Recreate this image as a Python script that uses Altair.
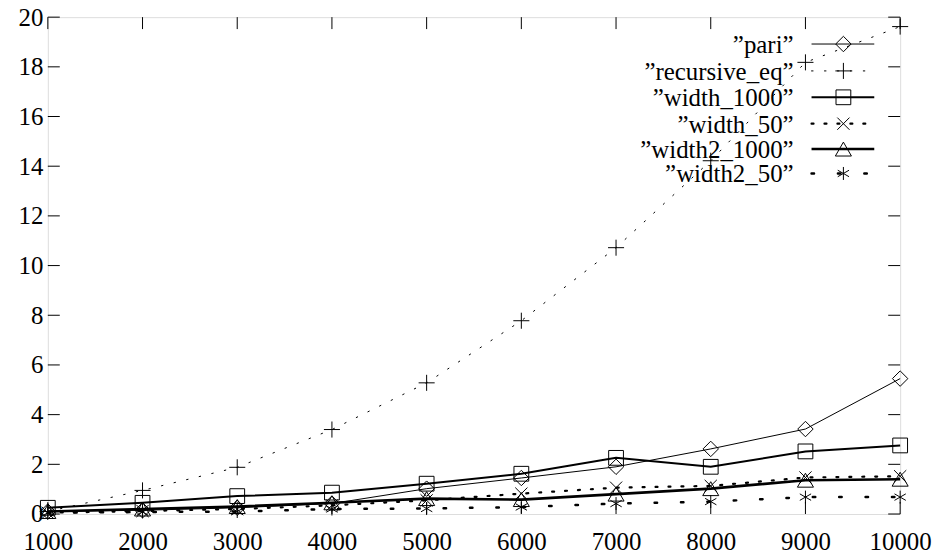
import altair as alt
import pandas as pd

sizes = [1000, 2000, 3000, 4000, 5000, 6000, 7000, 8000, 9000, 10000]
pari = [0.10, 0.15, 0.25, 0.42, 1.02, 1.45, 1.90, 2.62, 3.42, 5.45]
recursive_eq = [0.10, 0.95, 1.88, 3.40, 5.28, 7.78, 10.72, 14.22, 18.18, 19.62]
width_1000 = [0.25, 0.45, 0.72, 0.86, 1.22, 1.62, 2.26, 1.90, 2.52, 2.76]
width_50 = [0.05, 0.12, 0.20, 0.35, 0.55, 0.82, 1.06, 1.13, 1.47, 1.52]
width2_1000 = [0.10, 0.20, 0.30, 0.45, 0.62, 0.58, 0.80, 1.02, 1.36, 1.40]
width2_50 = [0.05, 0.08, 0.10, 0.20, 0.22, 0.28, 0.42, 0.50, 0.68, 0.68]

names = ['"pari"', '"recursive_eq"', '"width_1000"', '"width_50"', '"width2_1000"', '"width2_50"']
legend_labels = ["\u201dpari\u201d", "\u201drecursive_eq\u201d", "\u201dwidth_1000\u201d",
                 "\u201dwidth_50\u201d", "\u201dwidth2_1000\u201d", "\u201dwidth2_50\u201d"]
series = [pari, recursive_eq, width_1000, width_50, width2_1000, width2_50]

x_ticks = [1000, 2000, 3000, 4000, 5000, 6000, 7000, 8000, 9000, 10000]
y_ticks = [0, 2, 4, 6, 8, 10, 12, 14, 16, 18, 20]

W, H = 856, 499
FONT = "Times New Roman"
FS = 25

PLUS = "M-1,0L1,0M0,-1L0,1"
CROSS = "M-1,-1L1,1M1,-1L-1,1"
AST = "M0,-1L0,1M-0.87,-0.5L0.87,0.5M-0.87,0.5L0.87,-0.5"

styles = [
    dict(shape="diamond", size=240, lw=1.0, dash=None),
    dict(shape=PLUS, size=260, lw=1.0, dash=[1.5, 11.5]),
    dict(shape="square", size=220, lw=2.0, dash=None),
    dict(shape=CROSS, size=150, lw=2.2, dash=[2, 11]),
    dict(shape="triangle-up", size=260, lw=2.6, dash=None),
    dict(shape=AST, size=170, lw=2.5, dash=[2.5, 24]),
]

xscale = alt.Scale(domain=[1000, 10000], nice=False, zero=False)
yscale = alt.Scale(domain=[0, 20], nice=False)
xaxis = alt.Axis(values=x_ticks, format="d", title=None, ticks=False, domain=False, grid=False,
                 labelFont=FONT, labelFontSize=FS, labelColor="black", labelPadding=16,
                 labelFlush=False, labelOverlap=False)
yaxis = alt.Axis(values=y_ticks, format="d", title=None, ticks=False, domain=False, grid=False,
                 labelFont=FONT, labelFontSize=FS, labelColor="black", labelPadding=5,
                 labelOverlap=False)

layers = []
for name, vals, st in zip(names, series, styles):
    df = pd.DataFrame({"n": sizes, "t": vals})
    base = alt.Chart(df)
    lk = dict(color="black", strokeWidth=st["lw"])
    if st["dash"]:
        lk["strokeDash"] = st["dash"]
        lk["strokeCap"] = "round"
    line = base.mark_line(**lk).encode(
        x=alt.X("n:Q", scale=xscale, axis=xaxis),
        y=alt.Y("t:Q", scale=yscale, axis=yaxis),
    )
    pts = base.mark_point(shape=st["shape"], size=st["size"], filled=False, color="black",
                          strokeWidth=1.0, opacity=1).encode(
        x=alt.X("n:Q", scale=xscale, axis=xaxis),
        y=alt.Y("t:Q", scale=yscale, axis=yaxis),
    )
    layers += [line, pts]

# inward ticks (gnuplot style), mirrored
xt = alt.Chart(pd.DataFrame({"v": x_ticks}))
yt = alt.Chart(pd.DataFrame({"v": y_ticks}))
TL = 12
layers.append(xt.mark_rule(color="black", strokeWidth=1).encode(
    x=alt.X("v:Q", scale=xscale, axis=xaxis), y=alt.value(H), y2=alt.value(H - TL)))
layers.append(xt.mark_rule(color="black", strokeWidth=1).encode(
    x=alt.X("v:Q", scale=xscale, axis=xaxis), y=alt.value(0), y2=alt.value(TL)))
layers.append(yt.mark_rule(color="black", strokeWidth=1).encode(
    y=alt.Y("v:Q", scale=yscale, axis=yaxis), x=alt.value(0), x2=alt.value(TL)))
layers.append(yt.mark_rule(color="black", strokeWidth=1).encode(
    y=alt.Y("v:Q", scale=yscale, axis=yaxis), x=alt.value(W), x2=alt.value(W - TL)))

# key (top right, inside the plot)
key_y = [27, 54, 80.5, 107, 132.5, 157]
for lab, st, ky in zip(legend_labels, styles, key_y):
    kd = alt.Chart(pd.DataFrame({"label": [lab]}))
    layers.append(kd.mark_text(align="right", baseline="middle", font=FONT, fontSize=FS,
                               color="black").encode(
        text="label:N", x=alt.value(749), y=alt.value(ky + 1)))
    lk = dict(color="black", strokeWidth=st["lw"])
    if st["dash"]:
        lk["strokeDash"] = st["dash"]
        lk["strokeCap"] = "round"
    layers.append(kd.mark_rule(**lk).encode(
        x=alt.value(767), x2=alt.value(830), y=alt.value(ky)))
    layers.append(kd.mark_point(shape=st["shape"], size=st["size"], filled=False, color="black",
                                strokeWidth=1.0, opacity=1).encode(
        x=alt.value(799), y=alt.value(ky)))

chart = alt.layer(*layers).properties(
    width=W, height=H,
    autosize=alt.AutoSizeParams(type="none"),
    padding={"left": 40, "top": 8, "right": 36, "bottom": 42},
).configure_view(stroke="black", strokeWidth=1.2).configure(background="white", font=FONT)

chart.save("out.html", embed_options={"renderer": "svg", "actions": False})
